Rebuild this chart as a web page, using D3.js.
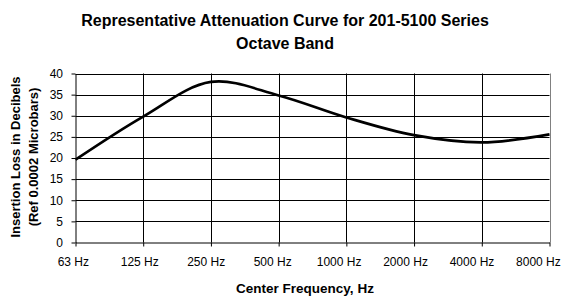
<!DOCTYPE html>
<html><head><meta charset="utf-8">
<script src="https://cdn.jsdelivr.net/npm/d3@7"></script>
<style>body{margin:0;background:#fff}svg{display:block;font-family:"Liberation Sans",Arial,sans-serif}</style>
</head><body><svg id="c" width="574" height="296"></svg>
<script>
const categories = ["63 Hz","125 Hz","250 Hz","500 Hz","1000 Hz","2000 Hz","4000 Hz","8000 Hz"];
const values = [19.6, 29.8, 38.0, 34.8, 29.6, 25.4, 23.7, 25.6];
const yTicks = [0,5,10,15,20,25,30,35,40];
const titleLines = ["Representative Attenuation Curve for 201-5100 Series","Octave Band"];
const yLabelLines = ["Insertion Loss in Decibels","(Ref 0.0002 Microbars)"];
const xLabel = "Center Frequency, Hz";

const svg = d3.select("#c");
const L = 75.5, R = 549.5, T = 73.5, B = 242.5;
const x = d3.scalePoint().domain(categories).range([L, R]);
const y = d3.scaleLinear().domain([0, 40]).range([B, T]);

// title
svg.append("g").selectAll("text").data(titleLines).join("text")
  .attr("x", 285).attr("y", (d,i)=>26+i*23).attr("text-anchor","middle")
  .attr("font-size", 16).attr("font-weight","bold").attr("fill","#000").text(d=>d);

// gridlines
svg.append("g").selectAll("line").data(yTicks.slice(1)).join("line")
  .attr("x1", L).attr("x2", R).attr("y1", d=>Math.round(y(d))+0.5).attr("y2", d=>Math.round(y(d))+0.5)
  .attr("stroke","#000").attr("stroke-width",1);
svg.append("g").selectAll("line").data(categories.slice(1)).join("line")
  .attr("x1", d=>Math.round(x(d))+0.5).attr("x2", d=>Math.round(x(d))+0.5).attr("y1", T).attr("y2", B)
  .attr("stroke", (d,i)=> i===categories.length-2 ? "#808080" : "#000").attr("stroke-width",1);

// axes
const yAxis = svg.append("g").attr("transform",`translate(${L},0)`)
  .call(d3.axisLeft(y).tickValues(yTicks).tickSize(4).tickSizeOuter(0));
const xAxis = svg.append("g").attr("transform",`translate(0,${B})`)
  .call(d3.axisBottom(x).tickSize(4).tickSizeOuter(0).tickPadding(11));
[yAxis, xAxis].forEach(g=>{
  g.select(".domain").attr("stroke","#000");
  g.selectAll(".tick line").attr("stroke","#000");
  g.selectAll("text").attr("font-size",12).attr("fill","#000").attr("font-family","Liberation Sans, Arial, sans-serif");
});
yAxis.selectAll("text").attr("dx", "-5.5");
xAxis.selectAll(".tick text").attr("dx", (d,i)=> -(2.7 + i*1.27));

// line
const line = d3.line().x((d,i)=>x(categories[i])).y(d=>y(d)).curve(d3.curveCatmullRom.alpha(0.5));
svg.append("path").datum(values).attr("d", line)
  .attr("fill","none").attr("stroke","#000").attr("stroke-width",2.7);

// y label
svg.append("g").selectAll("text").data(yLabelLines).join("text")
  .attr("transform",(d,i)=>`translate(${20+i*18},157) rotate(-90)`).attr("text-anchor","middle")
  .attr("font-size",13).attr("font-weight","bold").attr("fill","#000").text(d=>d);

// x label
svg.append("text").attr("x",305).attr("y",293).attr("text-anchor","middle")
  .attr("font-size",13.5).attr("font-weight","bold").attr("fill","#000").text(xLabel);
</script></body></html>
